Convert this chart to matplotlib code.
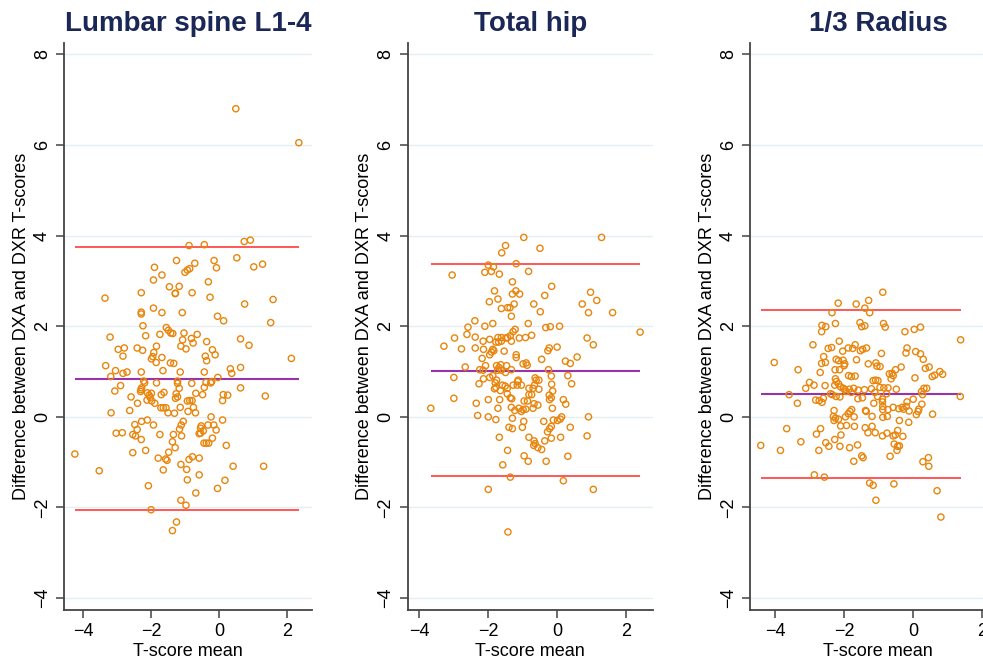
"""Bland-Altman plots of DXA vs DXR T-scores at three sites."""
import numpy as np
import matplotlib
matplotlib.use("Agg")
import matplotlib.pyplot as plt

plt.rcParams['font.family'] = ['Liberation Sans', 'DejaVu Sans']

# (T-score mean, difference) pairs
lumbar_pts = np.array([
    (0.50, 6.80), (2.36, 6.05), (-0.88, 3.78), (-0.43, 3.80), (0.75, 3.87), (0.93, 3.90),
    (0.53, 3.51), (-1.25, 3.45), (-0.71, 3.39), (-0.14, 3.45), (-0.07, 3.29), (-1.90, 3.30),
    (-1.00, 3.19), (-0.93, 3.24), (-0.86, 3.27), (1.03, 3.31), (1.29, 3.37), (-1.68, 3.13),
    (-1.93, 3.02), (-0.31, 2.98), (-1.46, 2.87), (-1.17, 2.88), (-1.29, 2.72), (-1.28, 2.73),
    (-0.79, 2.74), (-2.29, 2.74), (-3.36, 2.62), (-0.26, 2.64), (1.60, 2.59), (0.76, 2.49),
    (-1.93, 2.40), (-2.29, 2.31), (-2.29, 2.27), (-1.68, 2.30), (-1.08, 2.30), (-0.04, 2.22),
    (0.14, 2.12), (1.53, 2.08), (-2.24, 2.01), (-1.55, 1.97), (-1.49, 1.91), (-1.42, 1.85),
    (-1.36, 1.84), (-1.03, 1.85), (-2.16, 1.79), (-1.74, 1.82), (-0.64, 1.82), (-3.21, 1.76),
    (-0.81, 1.73), (-0.76, 1.63), (-1.07, 1.70), (0.64, 1.72), (-0.36, 1.66), (0.89, 1.58),
    (-1.12, 1.56), (-0.97, 1.50), (-2.41, 1.52), (-2.79, 1.52), (-2.97, 1.49), (-1.84, 1.56),
    (-2.25, 1.47), (-1.92, 1.42), (-0.19, 1.48), (-0.40, 1.34), (-0.11, 1.37), (-2.83, 1.34),
    (-1.95, 1.33), (-1.99, 1.28), (-1.68, 1.31), (-1.85, 1.20), (-1.43, 1.19), (-1.33, 1.18),
    (-0.36, 1.24), (-3.34, 1.13), (0.34, 1.06), (0.64, 1.09), (2.14, 1.29), (-3.05, 1.02),
    (-2.83, 0.96), (-2.71, 0.99), (-2.29, 0.99), (-1.65, 1.02), (-1.14, 0.99), (-0.43, 0.99),
    (0.38, 0.96), (-3.19, 0.89), (-0.03, 0.87), (-0.21, 0.78), (-0.24, 0.75), (-2.22, 0.79),
    (-2.19, 0.75), (-1.84, 0.75), (-1.22, 0.79), (-1.22, 0.74), (-0.80, 0.74), (-0.38, 0.76),
    (-2.90, 0.69), (0.64, 0.64), (-2.30, 0.60), (-2.28, 0.64), (-2.31, 0.56), (-1.17, 0.63),
    (-0.43, 0.65), (-3.07, 0.57), (-2.11, 0.53), (-1.99, 0.52), (-2.06, 0.48), (-1.62, 0.54),
    (-1.70, 0.49), (-1.26, 0.51), (-1.22, 0.44), (-1.28, 0.41), (-0.68, 0.52), (-0.48, 0.49),
    (0.13, 0.49), (0.26, 0.48), (0.11, 0.36), (1.37, 0.46), (-2.59, 0.44), (-2.12, 0.37),
    (-2.03, 0.43), (-1.98, 0.35), (-0.93, 0.35), (-0.86, 0.36), (-0.79, 0.36), (-1.89, 0.30),
    (-2.40, 0.30), (-1.71, 0.20), (-1.64, 0.20), (-1.56, 0.20), (-1.14, 0.21), (-0.75, 0.21),
    (-2.63, 0.14), (-3.18, 0.09), (-1.50, 0.09), (-1.31, 0.08), (-0.91, 0.12), (-0.69, 0.09),
    (-0.23, 0.00), (0.11, -0.07), (-2.11, -0.07), (-2.28, -0.10), (-1.05, -0.10), (-1.93, -0.18),
    (-1.11, -0.18), (-2.48, -0.17), (-0.52, -0.20), (-0.54, -0.25), (-0.15, -0.18), (-0.32, -0.18),
    (-1.16, -0.27), (-0.08, -0.29), (-2.41, -0.28), (-0.46, -0.31), (-0.58, -0.37), (-0.54, -0.36),
    (-3.03, -0.36), (-2.85, -0.35), (-2.54, -0.39), (-2.46, -0.42), (-1.74, -0.39), (-1.34, -0.39),
    (-1.10, -0.42), (-0.19, -0.47), (-2.29, -0.50), (-0.44, -0.58), (-0.37, -0.58), (-0.30, -0.58),
    (-1.37, -0.55), (-1.29, -0.68), (0.22, -0.63), (-2.16, -0.74), (-2.54, -0.79), (-1.48, -0.78),
    (-4.25, -0.82), (-1.79, -0.91), (-1.57, -0.93), (-1.53, -0.96), (-0.78, -0.88), (-0.88, -0.94),
    (-0.58, -0.91), (-1.64, -1.17), (-3.53, -1.19), (-1.12, -1.05), (-0.95, -1.16), (0.42, -1.09),
    (1.32, -1.09), (-0.58, -1.28), (-0.93, -1.39), (0.18, -1.40), (-2.08, -1.52), (-0.04, -1.58),
    (-0.68, -1.68), (-1.12, -1.84), (-0.97, -1.95), (-2.00, -2.05), (-1.25, -2.32), (-1.37, -2.51),
])

hip_pts = np.array([
    (-0.97, 3.96), (1.29, 3.96), (-1.50, 3.78), (-1.61, 3.62), (-0.50, 3.72), (-1.19, 3.38),
    (-2.00, 3.35), (-1.85, 3.31), (-2.10, 3.19), (-1.91, 3.21), (-1.68, 3.15), (-0.83, 3.21),
    (-3.05, 3.13), (-1.30, 2.98), (-0.16, 2.88), (-1.82, 2.78), (-1.20, 2.78), (-1.09, 2.71),
    (-1.30, 2.71), (0.97, 2.75), (-0.36, 2.68), (-1.72, 2.60), (1.15, 2.57), (-1.97, 2.54),
    (-1.25, 2.49), (-0.68, 2.49), (0.73, 2.49), (-1.44, 2.41), (-1.37, 2.41), (-1.62, 2.39),
    (-0.49, 2.32), (0.91, 2.30), (1.61, 2.30), (-1.33, 2.22), (-2.39, 2.12), (-0.84, 2.06),
    (-1.87, 2.06), (-2.59, 1.98), (-2.10, 2.00), (-0.33, 1.97), (-0.20, 1.99), (0.07, 2.00),
    (-1.22, 1.93), (-1.28, 1.88), (2.41, 1.87), (-2.62, 1.82), (-1.36, 1.79), (-0.74, 1.80),
    (-1.72, 1.75), (-1.62, 1.75), (-1.49, 1.74), (-1.44, 1.75), (-2.98, 1.74), (-2.38, 1.76),
    (-1.10, 1.74), (-0.92, 1.75), (0.87, 1.74), (-1.96, 1.71), (-2.15, 1.67), (-1.33, 1.67),
    (-1.62, 1.67), (-1.70, 1.65), (-1.78, 1.65), (1.05, 1.59), (-3.29, 1.56), (-2.78, 1.50),
    (-2.38, 1.52), (-2.14, 1.49), (-1.87, 1.49), (-1.91, 1.43), (-1.84, 1.46), (-0.23, 1.52),
    (-0.27, 1.46), (0.00, 1.54), (-1.54, 1.45), (-1.19, 1.37), (-1.19, 1.31), (-1.96, 1.37),
    (-2.18, 1.29), (-0.45, 1.27), (0.58, 1.32), (0.24, 1.23), (0.38, 1.18), (-0.90, 1.19),
    (-0.99, 1.17), (-0.87, 1.14), (-2.67, 1.10), (-2.08, 1.13), (-1.76, 1.13), (-1.64, 1.15),
    (-1.69, 1.09), (-1.47, 1.13), (-2.25, 1.04), (-2.15, 1.03), (-1.73, 1.03), (-1.62, 1.03),
    (-1.33, 1.04), (-0.25, 1.04), (-1.50, 0.98), (-1.87, 0.91), (-1.96, 0.87), (0.31, 0.91),
    (-0.17, 0.90), (-3.00, 0.87), (-0.64, 0.86), (-0.61, 0.81), (-2.14, 0.84), (-1.13, 0.81),
    (-1.15, 0.78), (-1.76, 0.81), (-1.80, 0.75), (-0.53, 0.81), (-2.27, 0.73), (0.42, 0.73),
    (-0.16, 0.72), (-1.59, 0.70), (-1.51, 0.68), (-1.28, 0.70), (-1.16, 0.70), (-1.04, 0.70),
    (-1.78, 0.65), (-1.82, 0.62), (-0.66, 0.70), (-0.70, 0.63), (-1.45, 0.63), (-0.82, 0.63),
    (-0.53, 0.61), (-0.13, 0.57), (-1.65, 0.58), (-1.45, 0.51), (-0.82, 0.49), (-0.74, 0.49),
    (-0.23, 0.48), (-1.36, 0.42), (-1.32, 0.40), (-3.00, 0.41), (-2.00, 0.38), (-1.67, 0.38),
    (-0.96, 0.35), (-0.86, 0.35), (-0.22, 0.38), (-0.17, 0.42), (0.18, 0.38), (-2.35, 0.30),
    (-0.56, 0.26), (-0.67, 0.29), (0.25, 0.28), (-3.67, 0.19), (-1.72, 0.19), (-1.33, 0.21),
    (-1.11, 0.19), (-0.99, 0.16), (-0.91, 0.17), (-0.70, 0.19), (-0.14, 0.19), (-1.23, 0.14),
    (-1.04, 0.12), (-2.31, 0.03), (-2.00, 0.00), (-1.78, -0.06), (-1.30, -0.03), (0.13, 0.00),
    (0.09, -0.05), (0.91, 0.00), (0.01, -0.08), (-0.11, -0.07), (-0.39, -0.10), (-0.97, -0.10),
    (-0.17, -0.21), (-0.22, -0.26), (-1.01, -0.23), (-1.40, -0.23), (-1.30, -0.26), (-0.28, -0.33),
    (0.38, -0.23), (0.87, -0.42), (-1.68, -0.45), (-0.82, -0.45), (-0.17, -0.47), (0.10, -0.45),
    (-0.36, -0.53), (-0.67, -0.53), (-0.64, -0.59), (-0.68, -0.63), (-0.56, -0.68), (-0.45, -0.72),
    (-1.44, -0.74), (-0.96, -0.86), (0.31, -0.87), (-0.84, -0.98), (-0.32, -0.98), (-1.58, -1.06),
    (-1.36, -1.33), (0.18, -1.41), (-2.00, -1.60), (1.05, -1.60), (-1.43, -2.54),
])

radius_pts = np.array([
    (-0.88, 2.75), (-2.17, 2.51), (-1.65, 2.49), (-1.29, 2.57), (-1.40, 2.40), (-1.26, 2.30),
    (-2.35, 2.30), (-1.54, 2.08), (-1.49, 1.99), (-1.40, 2.01), (-2.64, 2.02), (-2.53, 1.99),
    (-2.25, 2.06), (-0.86, 2.06), (-0.81, 1.98), (-0.24, 1.88), (0.03, 1.93), (0.21, 1.98),
    (-2.65, 1.88), (1.37, 1.70), (-2.14, 1.67), (-2.90, 1.59), (-1.68, 1.59), (-2.46, 1.51),
    (-2.36, 1.53), (-1.88, 1.52), (-1.75, 1.51), (-1.53, 1.46), (-1.46, 1.49), (-1.35, 1.52),
    (-2.04, 1.45), (-0.18, 1.52), (-0.21, 1.41), (0.07, 1.44), (0.21, 1.39), (-0.92, 1.40),
    (-2.59, 1.33), (-4.02, 1.20), (-2.23, 1.27), (-2.16, 1.24), (-2.03, 1.25), (0.29, 1.27),
    (-1.64, 1.26), (-2.65, 1.18), (-2.54, 1.20), (-1.98, 1.17), (-2.00, 1.13), (-1.30, 1.17),
    (-1.08, 1.19), (-1.05, 1.12), (-0.96, 1.11), (-0.35, 1.10), (0.46, 1.10), (0.35, 1.07),
    (-0.51, 1.04), (-3.33, 1.04), (-2.26, 1.04), (-2.13, 1.04), (-2.69, 0.98), (0.77, 1.00),
    (0.85, 0.94), (-0.69, 0.95), (-0.61, 0.96), (-0.58, 0.91), (-1.87, 0.91), (-1.79, 0.89),
    (-1.68, 0.90), (0.55, 0.89), (0.62, 0.92), (0.05, 0.86), (-0.64, 0.84), (-2.25, 0.84),
    (-2.22, 0.78), (-1.09, 0.81), (-1.16, 0.80), (-1.02, 0.80), (-3.00, 0.76), (-2.87, 0.70),
    (-2.55, 0.69), (-2.27, 0.70), (-2.16, 0.73), (-2.10, 0.66), (-3.11, 0.63), (-2.02, 0.63),
    (-1.98, 0.60), (-0.96, 0.65), (-0.85, 0.64), (-0.73, 0.64), (-0.49, 0.61), (-1.85, 0.61),
    (-1.72, 0.63), (-1.59, 0.59), (-1.41, 0.60), (-1.21, 0.62), (0.31, 0.63), (0.39, 0.63),
    (0.24, 0.56), (0.27, 0.49), (-1.94, 0.56), (-1.79, 0.54), (-1.11, 0.54), (-2.39, 0.51),
    (-2.34, 0.49), (-0.77, 0.51), (-1.03, 0.45), (-2.23, 0.45), (-2.12, 0.44), (-3.59, 0.49),
    (1.36, 0.45), (-2.60, 0.41), (-1.47, 0.42), (-1.60, 0.40), (-0.89, 0.39), (-0.89, 0.33),
    (-2.82, 0.37), (-2.72, 0.36), (0.00, 0.39), (-2.64, 0.32), (-3.35, 0.30), (-1.14, 0.30),
    (-0.18, 0.33), (-0.20, 0.23), (-0.88, 0.23), (-0.88, 0.16), (0.25, 0.28), (-0.58, 0.21),
    (-0.42, 0.18), (-0.32, 0.21), (-0.28, 0.17), (-0.12, 0.13), (0.14, 0.12), (0.16, 0.17),
    (-1.78, 0.16), (-1.83, 0.12), (-2.29, 0.14), (-1.38, 0.14), (-1.36, 0.12), (-0.73, 0.16),
    (-0.75, 0.01), (-1.88, 0.07), (0.56, 0.06), (0.09, 0.05), (-2.31, 0.01), (-2.25, -0.03),
    (-1.71, 0.00), (-1.96, 0.00), (-1.19, 0.01), (-0.88, -0.01), (-2.16, -0.05), (-2.29, -0.08),
    (-0.40, -0.08), (-0.13, -0.12), (-1.93, -0.19), (-2.10, -0.20), (-1.70, -0.21), (-1.39, -0.24),
    (-1.19, -0.21), (-3.66, -0.26), (-2.68, -0.26), (-0.45, -0.30), (-0.52, -0.40), (-1.31, -0.35),
    (-1.10, -0.35), (-0.76, -0.36), (-2.80, -0.38), (-2.09, -0.40), (-0.89, -0.42), (-0.30, -0.43),
    (-0.58, -0.42), (-2.27, -0.50), (-3.25, -0.55), (-2.53, -0.57), (-2.44, -0.65), (-1.61, -0.62),
    (-0.55, -0.60), (-0.45, -0.65), (-0.40, -0.64), (-2.12, -0.65), (-1.84, -0.68), (-4.41, -0.63),
    (-3.84, -0.74), (-2.73, -0.74), (-0.47, -0.74), (-1.49, -0.86), (-1.45, -0.90), (-0.67, -0.87),
    (0.44, -0.90), (0.28, -0.99), (0.45, -1.09), (-1.72, -0.98), (-2.86, -1.28), (-2.57, -1.33),
    (-1.26, -1.46), (-1.16, -1.51), (-0.56, -1.48), (-1.08, -1.84), (0.69, -1.63), (0.80, -2.21),
])

titles = ["Lumbar spine L1-4", "Total hip", "1/3 Radius"]
# limits of agreement and mean difference (lower, mean, upper)
agreement = [(-2.06, 0.84, 3.75), (-1.31, 1.02, 3.37), (-1.34, 0.51, 2.35)]
xlims = [(-4.57, 2.74), (-4.34, 2.77), (-4.72, 2.70)]
yticks = [-4, -2, 0, 2, 4, 6, 8]
xticks = [-4, -2, 0, 2]

# axes boxes in figure fractions (the third one runs off the right edge like the source)
boxes = [[0.0651, 0.0787, 0.252, 0.857],
         [0.4148, 0.0787, 0.249, 0.857],
         [0.7630, 0.0787, 0.261, 0.857]]

fig = plt.figure(figsize=(9.83, 6.62), dpi=100)

for pts, title, (lo, mid, hi), xl, box in zip(
        [lumbar_pts, hip_pts, radius_pts], titles, agreement, xlims, boxes):
    ax = fig.add_axes(box)
    ax.set_xlim(xl)
    ax.set_ylim(-4.26, 8.26)
    for yt in yticks:
        ax.axhline(yt, color='#e4edf1', lw=1.0, zorder=0)

    x0, x1 = pts[:, 0].min(), pts[:, 0].max()
    ax.hlines([lo, hi], x0, x1, colors='#ff2a2a', lw=1.1, zorder=2)
    ax.hlines(mid, x0, x1, colors='#9a32aa', lw=1.5, zorder=2)
    ax.scatter(pts[:, 0], pts[:, 1], s=20, facecolors='none',
               edgecolors='#e8850c', linewidths=1.0, zorder=3)

    ax.set_title(title, fontsize=20, fontweight='bold', color='#1b2756', pad=8)
    ax.set_xlabel("T-score mean", fontsize=13, labelpad=2)
    ax.set_ylabel("Difference between DXA and DXR T-scores", fontsize=13, labelpad=3)
    ax.set_xticks(xticks)
    ax.set_yticks(yticks)
    ax.tick_params(axis='both', labelsize=13, length=6, width=1.1, color='#444444')
    plt.setp(ax.get_yticklabels(), rotation=90, va='center')

    for side in ['top', 'right']:
        ax.spines[side].set_visible(False)
    for side in ['left', 'bottom']:
        ax.spines[side].set_color('#444444')
        ax.spines[side].set_linewidth(1.3)

fig.savefig("out.png", dpi=100)
